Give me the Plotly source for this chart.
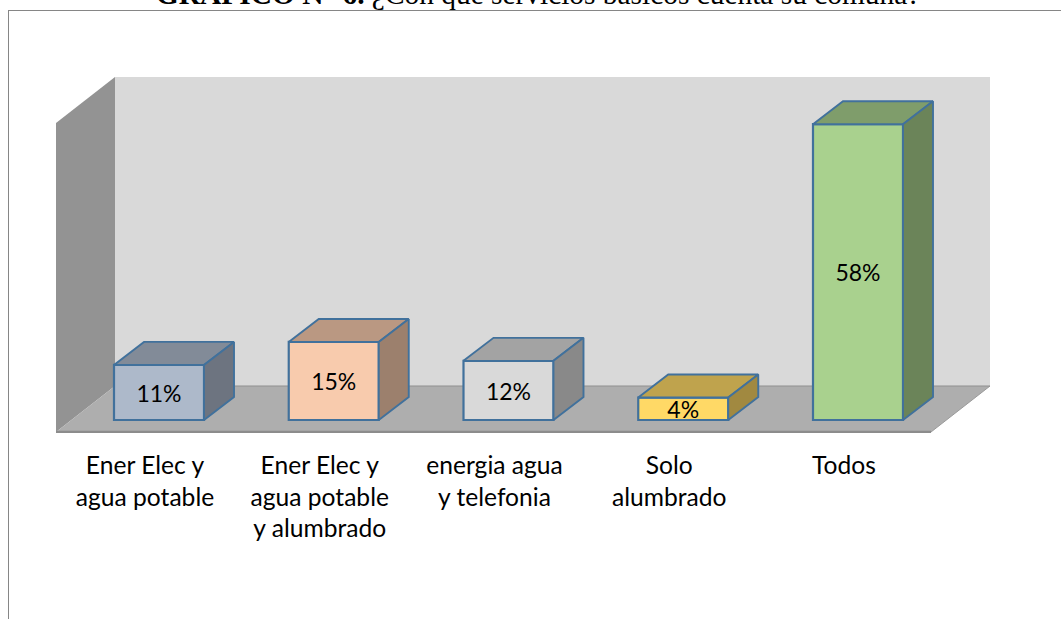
import plotly.graph_objects as go

# values, labels show them rounded
categories = [
    "Ener Elec y<br>agua potable",
    "Ener Elec y<br>agua potable<br>y alumbrado",
    "energia agua<br>y telefonia",
    "Solo<br>alumbrado",
    "Todos",
]
values = [10.8, 15.3, 11.6, 4.4, 58.0]
front_colors = ["#adb9ca", "#f8cbad", "#d9d9d9", "#ffd966", "#a9d18e"]
top_colors = ["#828b98", "#ba9882", "#a3a3a3", "#bfa34d", "#7f9d6b"]
side_colors = ["#6d7480", "#9c806d", "#898989", "#a18940", "#6b8459"]
title_bold = "GRAFICO N° 6."
title_rest = " ¿Con qué servicios básicos cuenta su comuna?"

W, H = 1061, 619
PX_X = 174.75  # pixels per category
PX_Y = 5.1     # pixels per percent
ZERO_X = 159
ZERO_Y = 420
FLOOR_PX = 433

EDGE = "#41719c"
bar_w = 90 / PX_X
dx = 30 / PX_X
dy = 23 / PX_Y


def path(points):
    return "M " + " L ".join(f"{a:.4f},{b:.4f}" for a, b in points) + " Z"


def xd(px):
    return (px - ZERO_X) / PX_X


def yd(px):
    return (ZERO_Y - px) / PX_Y


fig = go.Figure()

# front faces
fig.add_trace(go.Bar(
    x=list(range(len(values))), y=values, width=bar_w,
    marker=dict(color=front_colors, line=dict(color=EDGE, width=2.2)),
    hoverinfo="skip",
))

# top and side faces follow the value of each bar
for i, v in enumerate(values):
    l, r = i - bar_w / 2, i + bar_w / 2
    fig.add_trace(go.Scatter(
        x=[l, r, r + dx, l + dx, l], y=[v, v, v + dy, v + dy, v],
        mode="lines", fill="toself", fillcolor=top_colors[i],
        line=dict(color=EDGE, width=1.9), hoverinfo="skip",
    ))
    fig.add_trace(go.Scatter(
        x=[r, r + dx, r + dx, r, r], y=[0, dy, v + dy, v, 0],
        mode="lines", fill="toself", fillcolor=side_colors[i],
        line=dict(color=EDGE, width=1.9), hoverinfo="skip",
    ))

# data labels, a bit under the middle of the face
fig.add_trace(go.Scatter(
    x=list(range(len(values))), y=[v / 2 - 3.5 / PX_Y for v in values],
    mode="text", text=[f"{round(v)}%" for v in values],
    textposition="middle center",
    textfont=dict(family="Lato", size=23, color="#000000"),
    hoverinfo="skip",
))

# walls and floor of the 3D box
back = [(xd(115), yd(386)), (xd(990), yd(386)), (xd(990), yd(77)), (xd(115), yd(77))]
left = [(xd(56), yd(432)), (xd(115), yd(386)), (xd(115), yd(77)), (xd(56), yd(123))]
floor = [(xd(56), yd(432)), (xd(931), yd(432)), (xd(990), yd(386)), (xd(115), yd(386))]
shapes = [
    dict(type="path", path=path(back), fillcolor="#d9d9d9", line=dict(width=0), layer="below"),
    dict(type="path", path=path(left), fillcolor="#939393", line=dict(width=0), layer="below"),
    dict(type="path", path=path(floor), fillcolor="#aeaeae", line=dict(width=0), layer="below"),
    dict(type="line", x0=xd(56), x1=xd(931), y0=yd(432), y1=yd(432),
         line=dict(color="#8c8c8c", width=2.5), layer="below"),
    dict(type="line", x0=xd(931), x1=xd(990), y0=yd(432), y1=yd(386),
         line=dict(color="#9a9a9a", width=1), layer="below"),
    dict(type="line", x0=xd(115), x1=xd(990), y0=yd(386), y1=yd(386),
         line=dict(color="#8f8f8f", width=1), layer="below"),
    # page frame
    dict(type="line", xref="paper", yref="paper", x0=8 / W, x1=1, y0=1 - 10.5 / FLOOR_PX, y1=1 - 10.5 / FLOOR_PX,
         line=dict(color="#868686", width=1)),
    dict(type="line", xref="paper", yref="paper", x0=8.5 / W, x1=8.5 / W, y0=1 - 10.5 / FLOOR_PX, y1=1 - H / FLOOR_PX,
         line=dict(color="#868686", width=1)),
]

annotations = [dict(
    x=538 / W, y=1, xref="paper", yref="paper", text=f"<b>{title_bold}</b>{title_rest}",
    showarrow=False, xanchor="center", yanchor="bottom", yshift=-12,
    font=dict(family="Liberation Serif", size=29.4, color="#000000"),
)]

# category labels sit a little left of the bars, under the floor
fig.update_xaxes(
    range=[xd(0), xd(W)], fixedrange=True, showline=False, showgrid=False, zeroline=False,
    tickmode="array", tickvals=[i - 14 / PX_X for i in range(len(categories))], ticktext=categories,
    ticks="outside", ticklen=10, tickcolor="rgba(0,0,0,0)",
    tickfont=dict(family="Lato", size=24.6, color="#000000"), tickangle=0,
)
fig.update_yaxes(range=[yd(FLOOR_PX), yd(0)], visible=False, fixedrange=True)
fig.update_layout(
    width=W, height=H,
    margin=dict(l=0, r=0, t=0, b=H - FLOOR_PX),
    plot_bgcolor="#ffffff", paper_bgcolor="#ffffff",
    showlegend=False, shapes=shapes, annotations=annotations,
)

fig.write_html("out.html", config=dict(displayModeBar=False),
               post_script="document.body.style.margin='0';")
